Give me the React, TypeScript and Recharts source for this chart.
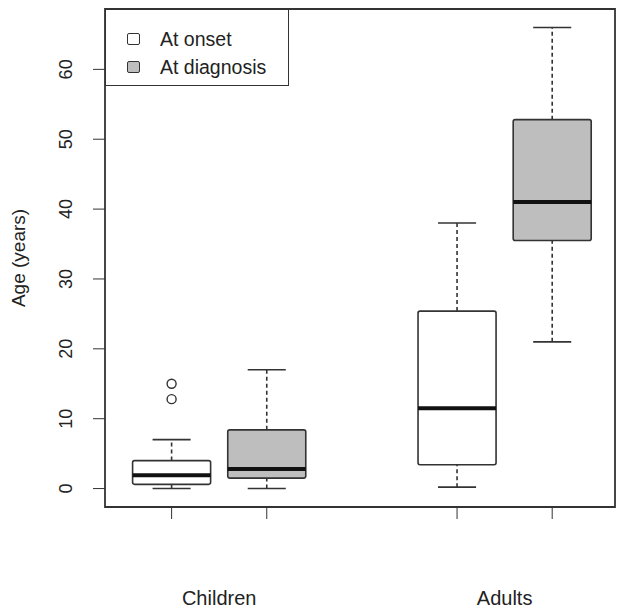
import React from "react";
import {ComposedChart, XAxis, YAxis, ReferenceArea, ReferenceLine, Scatter, Legend} from "recharts";

// boxplot stats, one entry per box (onset/diagnosis for children, then adults)
const groups = ["Children", "Adults"];
const groupCentres = [1.5, 4.5];
const series = ["At onset", "At diagnosis"];
const seriesFills = ["#ffffff", "#bebebe"];
const boxSlots = [1, 2, 4, 5];
const boxSeries = [0, 1, 0, 1];
const whiskerLow = [0, 0, 0.2, 21];
const q1 = [0.6, 1.5, 3.4, 35.5];
const median = [1.9, 2.8, 11.5, 41];
const q3 = [4, 8.4, 25.4, 52.8];
const whiskerHigh = [7, 17, 38, 66];
const outliers = [{x: 1, y: 15}, {x: 1, y: 12.8}];
const yTicks = [0, 10, 20, 30, 40, 50, 60];

const FONT = "'Liberation Sans', Arial, sans-serif";
const INK = "#333";
const X_DOMAIN = [0.3, 5.66];
const BOX_HALF = 0.41;
const CAP_HALF = 0.2;

// anchors so the group axis has something to scale
const groupAnchors = groupCentres.map((x) => ({x, y: 0}));

function YTick({x, y, payload}: any) {
    return (
        <text x={x} y={y} transform={`rotate(-90, ${x}, ${y})`} textAnchor="middle"
              fontSize={18} fontFamily={FONT} fill="#222">
            {payload.value}
        </text>
    );
}

const NoTick = () => <g/>;

function LegendBox() {
    return (
        <div style={{
            width: 184, height: 77, boxSizing: 'border-box', border: `1.5px solid ${INK}`,
            background: '#fff', fontFamily: FONT, fontSize: 19.5, color: '#222', paddingTop: 15
        }}>
            {series.map((s, i) => (
                <div key={s} style={{display: 'flex', alignItems: 'center', height: 28}}>
                    <span style={{
                        display: 'inline-block', width: 11, height: 10, marginLeft: 21, marginRight: 20,
                        border: `1.5px solid ${INK}`, borderRadius: 2, background: seriesFills[i]
                    }}/>
                    <span>{s}</span>
                </div>
            ))}
        </div>
    );
}

function OpenCircle({cx, cy}: any) {
    return <circle cx={cx} cy={cy} r={4.5} fill="#fff" stroke={INK} strokeWidth={1.4}/>;
}

export default function App() {
    return (
        <div style={{position: 'absolute', left: 0, top: 0}}>
            <ComposedChart width={617} height={611} margin={{top: 9, right: 2, bottom: 0, left: 0}}>
                <XAxis type="number" dataKey="x" domain={X_DOMAIN} ticks={boxSlots} allowDataOverflow
                       axisLine={false} tickSize={12} tick={NoTick} stroke={INK} height={30}/>
                <XAxis xAxisId="cat" type="number" dataKey="x" domain={X_DOMAIN} ticks={groupCentres}
                       allowDataOverflow axisLine={false} tickLine={false} height={74}
                       tick={{fontSize: 20, fill: '#222', fontFamily: FONT, dy: 46}}
                       tickFormatter={(v: number) => groups[groupCentres.indexOf(v)]}/>
                <YAxis type="number" dataKey="y" domain={[-2.64, 68.64]} ticks={yTicks} allowDataOverflow
                       width={105} axisLine={false} tickSize={12} tickMargin={21} tick={YTick} stroke={INK}
                       label={{
                           content: ({viewBox}: any) => (
                               <text x={viewBox.x + 25} y={viewBox.y + viewBox.height / 2}
                                     transform={`rotate(-90, ${viewBox.x + 25}, ${viewBox.y + viewBox.height / 2})`}
                                     textAnchor="middle" fontSize={19} fontFamily={FONT} fill="#222">
                                   Age (years)
                               </text>
                           )
                       }}/>
                {boxSlots.map((s, i) => (
                    <ReferenceLine key={`wu${i}`} segment={[{x: s, y: q3[i]}, {x: s, y: whiskerHigh[i]}]}
                                   stroke={INK} strokeWidth={1.6} strokeDasharray="4 3"/>
                ))}
                {boxSlots.map((s, i) => (
                    <ReferenceLine key={`wl${i}`} segment={[{x: s, y: whiskerLow[i]}, {x: s, y: q1[i]}]}
                                   stroke={INK} strokeWidth={1.6} strokeDasharray="4 3"/>
                ))}
                {boxSlots.map((s, i) => (
                    <ReferenceLine key={`cu${i}`}
                                   segment={[{x: s - CAP_HALF, y: whiskerHigh[i]}, {x: s + CAP_HALF, y: whiskerHigh[i]}]}
                                   stroke={INK} strokeWidth={1.6}/>
                ))}
                {boxSlots.map((s, i) => (
                    <ReferenceLine key={`cl${i}`}
                                   segment={[{x: s - CAP_HALF, y: whiskerLow[i]}, {x: s + CAP_HALF, y: whiskerLow[i]}]}
                                   stroke={INK} strokeWidth={1.6}/>
                ))}
                {boxSlots.map((s, i) => (
                    <ReferenceArea key={`b${i}`} x1={s - BOX_HALF} x2={s + BOX_HALF} y1={q1[i]} y2={q3[i]}
                                   fill={seriesFills[boxSeries[i]]} fillOpacity={1} stroke={INK} strokeWidth={1.6}
                                   radius={2}/>
                ))}
                {boxSlots.map((s, i) => (
                    <ReferenceLine key={`m${i}`}
                                   segment={[{x: s - BOX_HALF, y: median[i]}, {x: s + BOX_HALF, y: median[i]}]}
                                   stroke="#111" strokeWidth={4}/>
                ))}
                <Scatter data={outliers} shape={OpenCircle} isAnimationActive={false}/>
                <Scatter xAxisId="cat" data={groupAnchors} shape={NoTick} isAnimationActive={false}/>
                <ReferenceArea x1={X_DOMAIN[0]} x2={X_DOMAIN[1]} y1={-2.64} y2={68.64} fill="none" stroke={INK}
                               strokeWidth={1.8}/>
                <Legend layout="vertical" align="center" verticalAlign="middle" content={LegendBox}
                        wrapperStyle={{left: 105, top: 9, width: 'auto', height: 'auto'}}/>
            </ComposedChart>
        </div>
    );
}
